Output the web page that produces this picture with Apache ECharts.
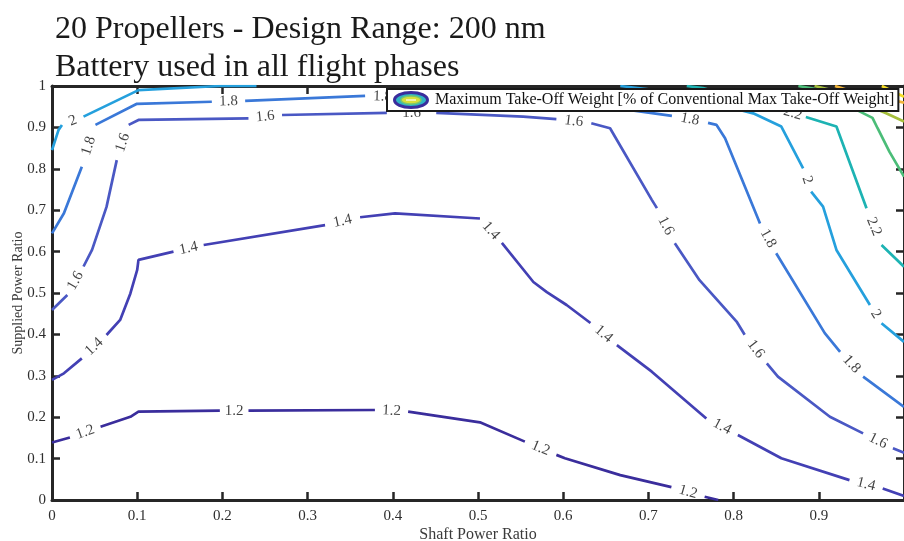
<!DOCTYPE html>
<html>
<head>
<meta charset="utf-8">
<title>Max Take-Off Weight contours</title>
<script src="https://cdn.jsdelivr.net/npm/echarts@6/dist/echarts.min.js"></script>
<style>
html, body { margin: 0; padding: 0; background: #fff; }
#chart { width: 904px; height: 541px; }
</style>
</head>
<body>
<div id="chart"></div>
<script>
// tick labels
const xTickLabels = ['0', '0.1', '0.2', '0.3', '0.4', '0.5', '0.6', '0.7', '0.8', '0.9', '1'];
const yTickLabels = ['0', '0.1', '0.2', '0.3', '0.4', '0.5', '0.6', '0.7', '0.8', '0.9', '1'];

// contour lines [shaft power ratio, supplied power ratio]; null = gap where the level label sits
const line12 = [[0, 0.139], [0.021, 0.151], null, [0.057, 0.177], [0.092, 0.201], [0.1015, 0.2133], [0.197, 0.2157], null,
  [0.2306, 0.2157], [0.379, 0.2174], null, [0.418, 0.2133], [0.5023, 0.1877], [0.555, 0.141], null,
  [0.592, 0.109], [0.602, 0.1007], [0.667, 0.060], [0.727, 0.031], null, [0.766, 0.008], [0.782, 0]];
const line14 = [[0, 0.290], [0.014, 0.306], [0.035, 0.342], null, [0.064, 0.3986], [0.080, 0.435], [0.092, 0.499],
  [0.100, 0.556], [0.1015, 0.58], [0.1426, 0.600], null, [0.178, 0.616], [0.3205, 0.664], null,
  [0.3616, 0.683], [0.4026, 0.6925], [0.5023, 0.680], null, [0.528, 0.621], [0.565, 0.5266], [0.5808, 0.502],
  [0.604, 0.471], [0.632, 0.4275], null, [0.663, 0.374], [0.704, 0.310], [0.768, 0.197], null,
  [0.805, 0.157], [0.856, 0.1007], [0.936, 0.048], null, [0.975, 0.028], [1, 0.0097]];
const line16 = [[0, 0.459], [0.018, 0.495], null, [0.037, 0.564], [0.047, 0.604], [0.064, 0.708], [0.076, 0.821], null,
  [0.090, 0.906], [0.1015, 0.918], [0.2306, 0.922], null, [0.270, 0.930], [0.393, 0.935], null,
  [0.451, 0.935], [0.553, 0.926], [0.592, 0.920], null, [0.633, 0.910], [0.655, 0.898], [0.704, 0.725],
  [0.710, 0.705], null, [0.731, 0.620], [0.760, 0.531], [0.8035, 0.431], [0.813, 0.399], null,
  [0.839, 0.330], [0.852, 0.298], [0.913, 0.201], [0.952, 0.161], null, [0.987, 0.125], [1, 0.114]];
const line18 = [[0, 0.644], [0.014, 0.6925], [0.035, 0.805], null, [0.051, 0.906], [0.0997, 0.957], [0.1876, 0.962], null,
  [0.2267, 0.964], [0.3675, 0.976], null, [0.4085, 0.973], [0.55, 0.965], [0.643, 0.952], [0.7276, 0.928], null,
  [0.770, 0.911], [0.780, 0.906], [0.790, 0.874], [0.831, 0.668], null, [0.850, 0.596], [0.907, 0.403],
  [0.925, 0.358], null, [0.952, 0.298], [1, 0.225]];
const line20Left = [[0, 0.845], [0.0077, 0.894], [0.0117, 0.906], null, [0.037, 0.926], [0.1015, 0.990], [0.197, 1.0], [0.24, 1.0]];
const line20Right = [[0.667, 1.0], [0.708, 0.990], [0.77, 0.962], [0.823, 0.934], [0.856, 0.902], [0.8816, 0.801], null,
  [0.891, 0.745], [0.905, 0.7085], [0.9207, 0.604], [0.960, 0.471], null, [0.9736, 0.4268], [1, 0.382]];
const line22 = [[0.745, 1.0], [0.764, 0.995], [0.8543, 0.943], null, [0.8848, 0.925], [0.9207, 0.902], [0.956, 0.7046], null,
  [0.9736, 0.616], [1, 0.5636]];
const line24 = [[0.876, 1.0], [0.895, 0.993], [0.963, 0.923], [0.969, 0.898], [0.983, 0.841], [1, 0.781]];
const line26 = [[0.895, 1.0], [0.915, 0.99], [0.979, 0.934], [1, 0.914]];
const line28 = [[0.919, 1.0], [0.934, 0.99], [1, 0.96]];
const line30 = [[0.974, 1.0], [1, 0.974]];

const contours = [
  { level: 1.2, pts: line12 }, { level: 1.4, pts: line14 }, { level: 1.6, pts: line16 },
  { level: 1.8, pts: line18 }, { level: 2.0, pts: line20Left }, { level: 2.0, pts: line20Right },
  { level: 2.2, pts: line22 }, { level: 2.4, pts: line24 }, { level: 2.6, pts: line26 },
  { level: 2.8, pts: line28 }, { level: 3.0, pts: line30 }
];

// parula-like colours per level
const levelColors = {
  '1.2': '#3a2d9c', '1.4': '#4340b4', '1.6': '#4a58c4', '1.8': '#3a78d8', '2': '#25a0dd',
  '2.2': '#1db3b3', '2.4': '#4bbd78', '2.6': '#a6bf3c', '2.8': '#f2b53a', '3': '#f5dd25'
};

const legendName = 'Maximum Take-Off Weight [% of Conventional Max Take-Off Weight]';
const serif = '"Liberation Serif", "Times New Roman", serif';

const iconSvg = "<svg xmlns='http://www.w3.org/2000/svg' width='38' height='18'>" +
  "<ellipse cx='19' cy='9' rx='16.5' ry='7.5' fill='#2fb5c4' stroke='#3a2d9c' stroke-width='3'/>" +
  "<ellipse cx='19' cy='9' rx='10' ry='4' fill='#d8df3a' stroke='#7cc86a' stroke-width='1.5'/>" +
  "<line x1='14' y1='9' x2='24' y2='9' stroke='#fff' stroke-width='1.2'/></svg>";
const iconUrl = 'image://data:image/svg+xml;charset=utf-8,' + encodeURIComponent(iconSvg);

const chart = echarts.init(document.getElementById('chart'));

const axisLine = { show: true, onZero: false, lineStyle: { color: '#262626', width: 3 } };
const axisTick = { show: true, inside: true, length: 8, lineStyle: { color: '#262626', width: 2.5 } };
const tickFont = { color: '#2e2e2e', fontFamily: serif, fontSize: 15 };

const lineSeries = contours.map(c => ({
  name: legendName,
  type: 'line',
  data: c.pts.map(p => (p ? p : ['-', '-'])),
  showSymbol: false,
  symbol: 'none',
  connectNulls: false,
  lineStyle: { color: levelColors[String(c.level)], width: 2.7 },
  itemStyle: { color: levelColors[String(c.level)] },
  animation: false,
  silent: true,
  z: 2
}));

const option = {
  backgroundColor: '#fff',
  animation: false,
  title: {
    text: '20 Propellers - Design Range: 200 nm\nBattery used in all flight phases',
    left: 55,
    top: 11,
    padding: 0,
    textStyle: { fontFamily: serif, fontSize: 32, fontWeight: 'normal', color: '#1a1a1a', lineHeight: 38 }
  },
  legend: {
    data: [{ name: legendName, icon: iconUrl }],
    left: 387,
    top: 89,
    padding: [2, 4, 2, 5],
    itemWidth: 38,
    itemHeight: 18,
    itemGap: 5,
    backgroundColor: '#fff',
    borderColor: '#1a1a1a',
    borderWidth: 2,
    borderRadius: 0,
    selectedMode: false,
    textStyle: { fontFamily: serif, fontSize: 16, color: '#111' },
    z: 10
  },
  grid: { left: 52, right: 0, top: 86, bottom: 41, containLabel: false, outerBoundsMode: 'none' },
  xAxis: [
    {
      type: 'value', min: 0, max: 1, interval: 0.1, position: 'bottom',
      axisLine, axisTick, splitLine: { show: false },
      axisLabel: Object.assign({ margin: 9, showMaxLabel: false, formatter: v => xTickLabels[Math.round(v * 10)] }, tickFont),
      name: 'Shaft Power Ratio', nameLocation: 'middle', nameGap: 27, nameMoveOverlap: false,
      nameTextStyle: { fontFamily: serif, fontSize: 16, color: '#3a3a3a' }
    },
    {
      type: 'value', min: 0, max: 1, interval: 0.1, position: 'top',
      axisLine, axisTick, splitLine: { show: false }, axisLabel: { show: false }
    }
  ],
  yAxis: [
    {
      type: 'value', min: 0, max: 1, interval: 0.1, position: 'left',
      axisLine, axisTick, splitLine: { show: false },
      axisLabel: Object.assign({ margin: 6, formatter: v => yTickLabels[Math.round(v * 10)] }, tickFont),
      name: 'Supplied Power Ratio', nameLocation: 'middle', nameGap: 27, nameMoveOverlap: false,
      nameTextStyle: { fontFamily: serif, fontSize: 14, color: '#3a3a3a' }
    },
    {
      type: 'value', min: 0, max: 1, interval: 0.1, position: 'right',
      axisLine, axisTick, splitLine: { show: false }, axisLabel: { show: false }
    }
  ],
  series: lineSeries
};

chart.setOption(option);

// place the inline level labels in the gaps, rotated along the line
const labelData = [];
contours.forEach(c => {
  const pts = c.pts;
  for (let i = 1; i < pts.length - 1; i++) {
    if (pts[i] !== null) continue;
    const a = pts[i - 1], b = pts[i + 1];
    const pa = chart.convertToPixel({ xAxisIndex: 0, yAxisIndex: 0 }, a);
    const pb = chart.convertToPixel({ xAxisIndex: 0, yAxisIndex: 0 }, b);
    let ang = Math.atan2(-(pb[1] - pa[1]), pb[0] - pa[0]) * 180 / Math.PI;
    if (ang > 90) ang -= 180;
    if (ang < -90) ang += 180;
    labelData.push({
      name: String(c.level),
      value: [(a[0] + b[0]) / 2, (a[1] + b[1]) / 2],
      label: { rotate: ang }
    });
  }
});

chart.setOption({
  series: lineSeries.concat([{
    name: 'levels',
    type: 'scatter',
    data: labelData,
    symbolSize: 0,
    silent: true,
    z: 3,
    label: {
      show: true,
      position: 'inside',
      formatter: '{b}',
      fontFamily: serif,
      fontSize: 15,
      color: '#111'
    }
  }])
});
</script>
</body>
</html>
